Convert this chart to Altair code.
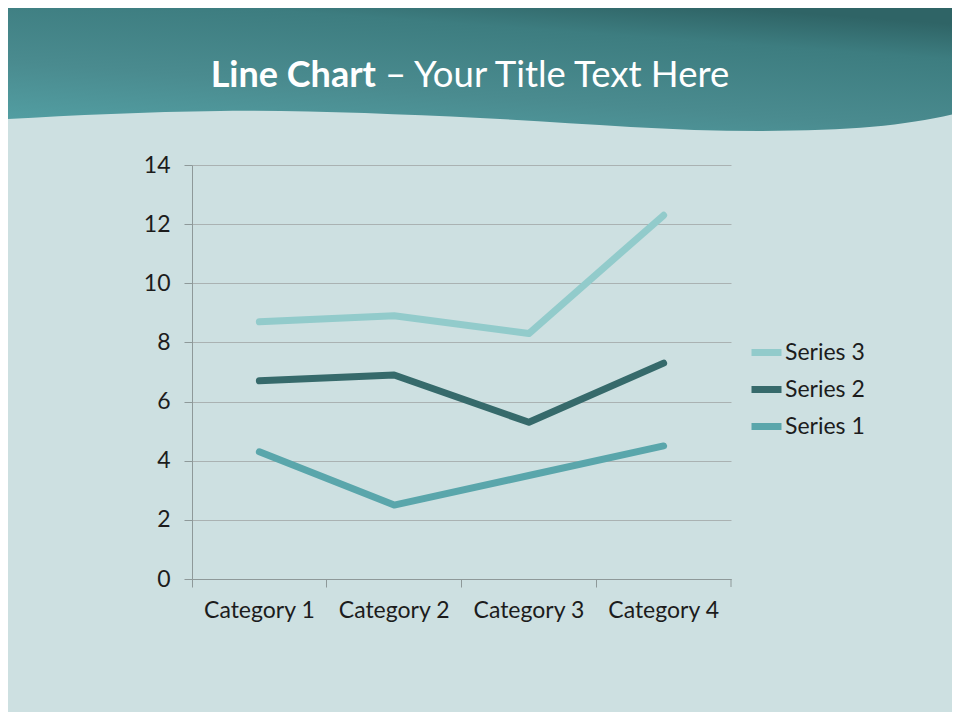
import altair as alt
import pandas as pd

categories = ["Category 1", "Category 2", "Category 3", "Category 4"]
series_names = ["Series 1", "Series 2", "Series 3"]
series1 = [4.3, 2.5, 3.5, 4.5]
series2 = [2.4, 4.4, 1.8, 2.8]
series3 = [2.0, 2.0, 3.0, 5.0]
y_ticks = [0, 2, 4, 6, 8, 10, 12, 14]
title_bold = "Line Chart"
title_rest = "– Your Title Text Here"

rows = []
for i, (name, vals) in enumerate(zip(series_names, [series1, series2, series3])):
    for c, v in zip(categories, vals):
        rows.append({"series": name, "idx": i, "category": c, "value": v})
df = pd.DataFrame(rows)

W, H = 539, 414
BG = "#cde0e1"
FONT = "Lato"
C1, C2, C3 = "#5aa6ab", "#366a6b", "#92cbcb"
AXIS = "#8e9999"
GRID = "#aab2b2"
TXT = "#1c1c1c"

# decorative header wave (pixel path, centred on page x=480, y=0)
header_path = ("M-490,-10 L490,-10 L490,110 C440,124 380,131 280,131 "
               "C180,131 90,122 0,118 C-90,114 -180,110 -260,111 "
               "C-340,112 -420,116 -490,120 Z")
header_grad = alt.LinearGradient(
    gradient="linear", x1=0, y1=1, x2=0.5, y2=0,
    stops=[alt.GradientStop(color="#54a2a6", offset=0),
           alt.GradientStop(color="#4a8b8f", offset=0.4),
           alt.GradientStop(color="#3d7d80", offset=0.8),
           alt.GradientStop(color="#2f6466", offset=1)])

one = pd.DataFrame({"k": [0]})
header = alt.Chart(one).mark_point(
    shape=header_path, filled=True, fill=header_grad, stroke=None,
    opacity=1, size=4
).encode(x=alt.value(288), y=alt.value(-165))

t1 = alt.Chart(pd.DataFrame({"t": [title_bold]})).mark_text(
    font=FONT, fontSize=36, fontWeight="bold", color="white",
    align="right", baseline="alphabetic"
).encode(text="t:N", x=alt.value(184), y=alt.value(-78))
t2 = alt.Chart(pd.DataFrame({"t": [title_rest]})).mark_text(
    font=FONT, fontSize=36.5, color="white",
    align="left", baseline="alphabetic"
).encode(text="t:N", x=alt.value(193), y=alt.value(-78))

lines = alt.Chart(df).transform_stack(
    stack="value", groupby=["category"], as_=["y0", "y1"],
    sort=[alt.SortField("idx", order="ascending")]
).mark_line(strokeWidth=7, strokeCap="round", strokeJoin="round").encode(
    x=alt.X("category:N", sort=categories, bandPosition=0.5,
            scale=alt.Scale(type="band", paddingInner=0, paddingOuter=0),
            axis=alt.Axis(title=None, labelAngle=0, bandPosition=0,
                          labelFontSize=23, labelFont=FONT, labelColor=TXT,
                          tickColor=AXIS, tickSize=8, domainColor=AXIS,
                          labelPadding=12, grid=False)),
    y=alt.Y("y1:Q", scale=alt.Scale(domain=[0, 14], nice=False),
            axis=alt.Axis(title=None, values=y_ticks, labelFontSize=23,
                          labelFont=FONT, labelColor=TXT, tickColor=AXIS,
                          tickSize=8, domainColor=AXIS, gridColor=GRID,
                          labelPadding=14)),
    color=alt.Color("series:N",
                    scale=alt.Scale(domain=["Series 3", "Series 2", "Series 1"],
                                    range=[C3, C2, C1]),
                    legend=alt.Legend(title=None, orient="none", legendX=556,
                                      legendY=169, labelFontSize=23,
                                      labelFont=FONT, labelColor=TXT,
                                      symbolType="stroke", symbolSize=900,
                                      symbolStrokeWidth=7, labelOffset=0,
                                      rowPadding=4)),
    detail="series:N",
)

endtick = alt.Chart(one).mark_rule(color=AXIS).encode(
    x=alt.value(W), y=alt.value(H), y2=alt.value(H + 8))

chart = alt.layer(header, t1, t2, lines, endtick).properties(
    width=W, height=H, background=BG,
    autosize=alt.AutoSizeParams(type="none"),
    padding={"left": 184, "top": 157, "right": 221, "bottom": 133},
).configure_view(stroke=None)

chart.save("out.html", embed_options={"renderer": "svg", "actions": False})
